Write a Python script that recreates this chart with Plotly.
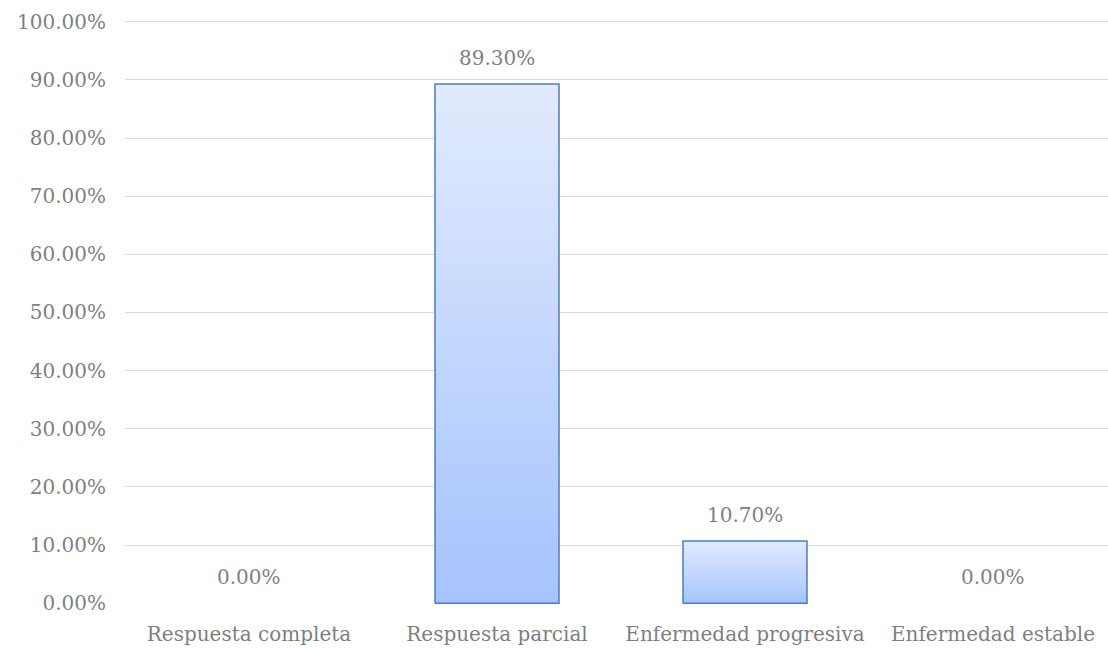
import plotly.graph_objects as go

categories = ["Respuesta completa", "Respuesta parcial", "Enfermedad progresiva", "Enfermedad estable"]
values = [0.0, 0.893, 0.107, 0.0]
y_ticks = [0.0, 0.1, 0.2, 0.3, 0.4, 0.5, 0.6, 0.7, 0.8, 0.9, 1.0]

FONT = "DejaVu Serif"
TXT = "#7f7f7f"
half = 0.25

fig = go.Figure()
for i, v in enumerate(values):
    if v <= 0:
        continue
    fig.add_trace(go.Scatter(
        x=[i - half, i - half, i + half, i + half, i - half],
        y=[0, v, v, 0, 0],
        mode="lines",
        fill="toself",
        line=dict(color="#4a7ebb", width=1.5),
        fillgradient=dict(type="vertical", start=0, stop=v,
                          colorscale=[[0, "#a5c3fe"], [1, "#e2ebfd"]]),
        hoverinfo="skip",
        showlegend=False,
    ))

for i, v in enumerate(values):
    fig.add_annotation(
        x=i, y=v, xref="x", yref="y",
        text=f"{v*100:.2f}%",
        showarrow=False, yanchor="bottom", yshift=12,
        font=dict(family=FONT, size=20, color=TXT),
    )

fig.update_layout(
    width=1108, height=648,
    margin=dict(l=125, r=0, t=20, b=44),
    paper_bgcolor="white", plot_bgcolor="white",
    font=dict(family=FONT, size=20, color=TXT),
)
fig.update_xaxes(
    range=[-0.5, 3.4637],
    tickmode="array",
    tickvals=list(range(len(categories))),
    ticktext=categories,
    showgrid=False, zeroline=False, showline=False, ticks="",
    ticklabelstandoff=16,
)
fig.update_yaxes(
    range=[-0.0012, 1.0029],
    tickmode="array",
    tickvals=y_ticks,
    tickformat=".2%",
    showgrid=True, gridcolor="#d9d9d9", gridwidth=1,
    zeroline=False, showline=False, ticks="",
    ticklabelstandoff=18,
)

fig.write_html("out.html")
